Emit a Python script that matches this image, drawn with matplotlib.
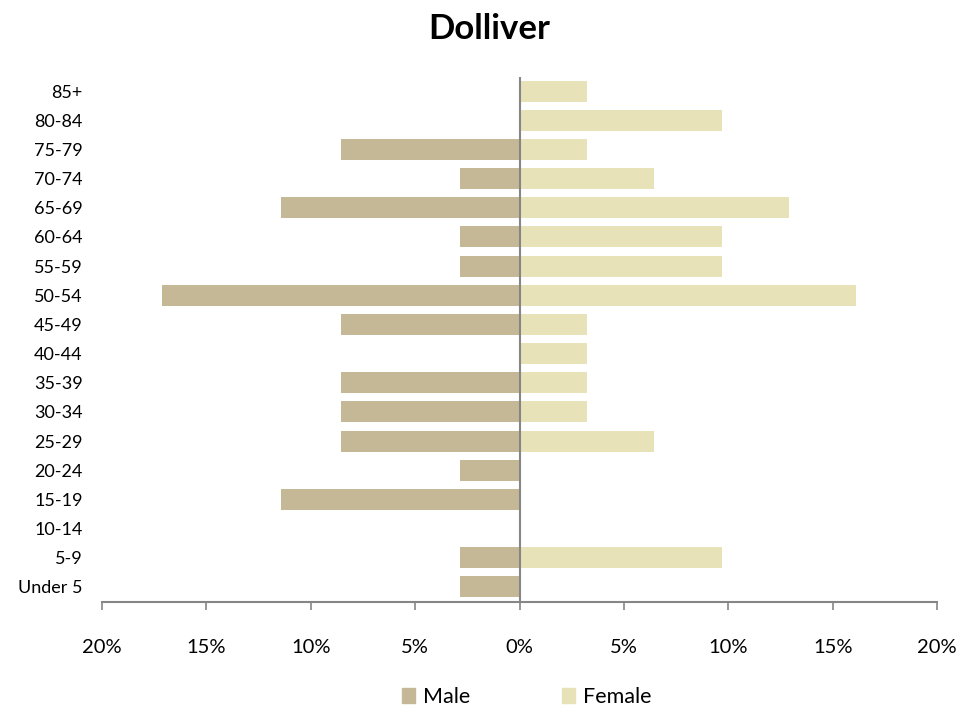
import matplotlib
matplotlib.use("Agg")
import matplotlib.pyplot as plt
from matplotlib.patches import Patch
from matplotlib.ticker import FuncFormatter

plt.rcParams["font.family"] = ["Lato", "DejaVu Sans"]

# age groups, bottom to top
age_groups = ["Under 5", "5-9", "10-14", "15-19", "20-24", "25-29", "30-34",
              "35-39", "40-44", "45-49", "50-54", "55-59", "60-64", "65-69",
              "70-74", "75-79", "80-84", "85+"]
# share of population (%)
male_pct = [2.86, 2.86, 0, 11.43, 2.86, 8.57, 8.57, 8.57, 0, 8.57,
            17.14, 2.86, 2.86, 11.43, 2.86, 8.57, 0, 0]
female_pct = [0, 9.68, 0, 0, 0, 6.45, 3.23, 3.23, 3.23, 3.23,
              16.13, 9.68, 9.68, 12.9, 6.45, 3.23, 9.68, 3.23]
x_ticks = [-20, -15, -10, -5, 0, 5, 10, 15, 20]

male_color = "#C4B896"
female_color = "#E8E2B8"
axis_gray = "#868686"

fig = plt.figure(figsize=(9.79, 7.13), dpi=100)
ax = fig.add_axes([102 / 979, 111.5 / 713, 835 / 979, 525 / 713])

y = range(len(age_groups))
ax.barh(y, [-v for v in male_pct], height=0.72, color=male_color)
ax.barh(y, female_pct, height=0.72, color=female_color)

ax.set_xlim(-20, 20)
ax.set_ylim(-0.5, len(age_groups) - 0.5)
ax.set_yticks(list(y))
ax.set_yticklabels(age_groups, fontsize=13)
ax.set_xticks(x_ticks)
ax.xaxis.set_major_formatter(FuncFormatter(lambda v, p: f"{abs(v):.0f}%"))

ax.axvline(0, color=axis_gray, linewidth=1.5)

for s in ["top", "right", "left"]:
    ax.spines[s].set_visible(False)
ax.spines["bottom"].set_color(axis_gray)
ax.spines["bottom"].set_linewidth(1.5)

ax.tick_params(axis="x", direction="out", length=6, width=1.2, color=axis_gray,
               pad=21, labelsize=14.5)
ax.tick_params(axis="y", length=0, pad=14)

fig.suptitle("Dolliver", fontsize=25, fontweight="bold", y=0.982)

handles = [Patch(color=male_color, label="Male"),
           Patch(color=female_color, label="Female")]
fig.legend(handles=handles, loc="center", bbox_to_anchor=(0.538, 0.022),
           ncol=2, frameon=False, fontsize=15.5, handlelength=0.6,
           handleheight=0.7, handletextpad=0.35, columnspacing=4.3)

fig.savefig("out.png", dpi=100)
